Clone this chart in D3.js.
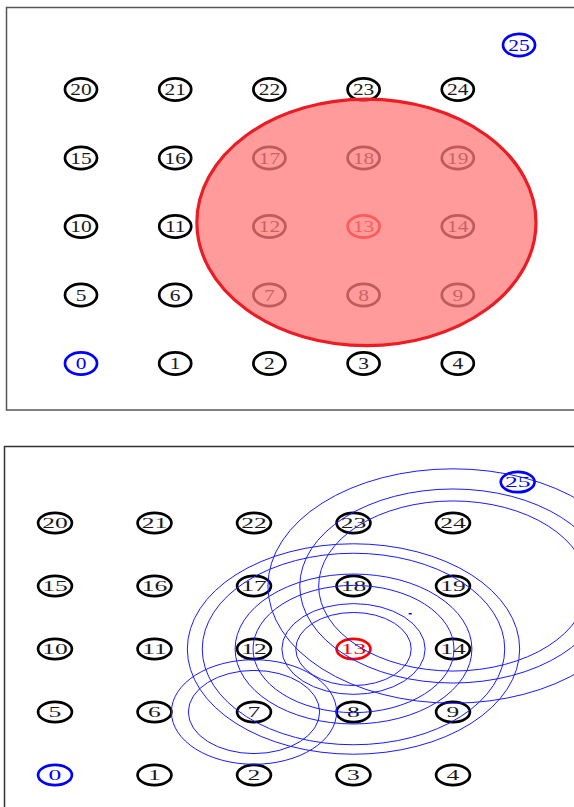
<!DOCTYPE html>
<html><head><meta charset="utf-8">
<script src="https://cdn.jsdelivr.net/npm/d3@7/dist/d3.min.js"></script>
<style>html,body{margin:0;padding:0;background:#fff;}svg{display:block;}</style>
</head><body>
<script>
// ---- data ----
const nodeIds   = [0,1,2,3,4,5,6,7,8,9,10,11,12,13,14,15,16,17,18,19,20,21,22,23,24,25];
const nodeCol   = [0,1,2,3,4,0,1,2,3,4,0,1,2,3,4,0,1,2,3,4,0,1,2,3,4,4.65];
const nodeRow   = [0,0,0,0,0,1,1,1,1,1,2,2,2,2,2,3,3,3,3,3,4,4,4,4,4,4.65];
const anchorIds = [0,25];
const targetId  = 13;
const nodeRadius = 0.17;
// top panel: communication range of target
const rangeCenter = [3.03, 2.06];
const rangeRadius = 1.8;
// bottom panel: distance circles
const circleCenters = [7,7,13,13,13,13,13,13,19,19,19];
const circleRadii   = [0.66,0.83,0.58,0.72,1.01,1.19,1.52,1.67,1.35,1.54,1.86];
const estimatePoint = [3.57, 2.56];

const W = 574, H = 807;
const svg = d3.select("body").append("svg").attr("width", W).attr("height", H);

function nodeColor(id){ return anchorIds.includes(id) ? "#0000ff" : (id===targetId ? "#ff0000" : "#000"); }
function textColor(id){ return anchorIds.includes(id) ? "#0000ff" : (id===targetId ? "#ff0000" : "#1a1a1a"); }

function drawNodes(g, x, y, kx, ky){
  const sx = x(1)-x(0), sy = y(0)-y(1);
  const nodes = g.selectAll("g.node").data(nodeIds).join("g").attr("class","node")
    .attr("transform", d => `translate(${x(nodeCol[d])},${y(nodeRow[d])})`);
  nodes.append("ellipse").attr("rx", nodeRadius*sx).attr("ry", nodeRadius*sy*0.95)
    .attr("fill","none").attr("stroke", d=>nodeColor(d)).attr("stroke-width", 2.7);
  nodes.append("text").text(d=>d).attr("text-anchor","middle").attr("dy","0.35em")
    .attr("transform", `scale(${kx},${ky})`)
    .attr("font-family","'Liberation Serif', 'DejaVu Serif', serif").attr("font-size", 16.5)
    .attr("fill", d=>textColor(d));
}

// ---- top panel ----
const xTop = d3.scaleLinear().domain([0,4]).range([81, 457.8]);
const yTop = d3.scaleLinear().domain([0,4]).range([363.5, 89.5]);
const gTop = svg.append("g");
gTop.append("rect").attr("x",6.5).attr("y",7.5).attr("width",620).attr("height",402.5)
  .attr("fill","none").attr("stroke","#555").attr("stroke-width",1.5);
drawNodes(gTop, xTop, yTop, 1.3, 1.0);
gTop.append("ellipse")
  .attr("cx", xTop(rangeCenter[0])).attr("cy", yTop(rangeCenter[1]))
  .attr("rx", rangeRadius*(xTop(1)-xTop(0))).attr("ry", rangeRadius*(yTop(0)-yTop(1)))
  .attr("fill","rgb(255,122,122)").attr("fill-opacity",0.75)
  .attr("stroke","#ec1c24").attr("stroke-width",3.2);

// ---- bottom panel ----
const xBot = d3.scaleLinear().domain([0,4]).range([55, 453]);
const yBot = d3.scaleLinear().domain([0,4]).range([775, 523]);
const gBot = svg.append("g");
gBot.append("rect").attr("x",4.5).attr("y",446.5).attr("width",620).attr("height",420)
  .attr("fill","none").attr("stroke","#333").attr("stroke-width",1.5);
drawNodes(gBot, xBot, yBot, 1.55, 0.92);
const bsx = xBot(1)-xBot(0), bsy = yBot(0)-yBot(1);
gBot.selectAll("ellipse.dist").data(circleCenters.map((c,i)=>({c, r:circleRadii[i]})))
  .join("ellipse").attr("class","dist")
  .attr("cx", d=>xBot(nodeCol[d.c])).attr("cy", d=>yBot(nodeRow[d.c]))
  .attr("rx", d=>d.r*bsx).attr("ry", d=>d.r*bsy)
  .attr("fill","none").attr("stroke","#1a1aff").attr("stroke-width",1);
gBot.append("line")
  .attr("x1", xBot(estimatePoint[0])-1.5).attr("x2", xBot(estimatePoint[0])+1.5)
  .attr("y1", yBot(estimatePoint[1])).attr("y2", yBot(estimatePoint[1]))
  .attr("stroke","#0000cc").attr("stroke-width",1.5);
</script>
</body></html>
